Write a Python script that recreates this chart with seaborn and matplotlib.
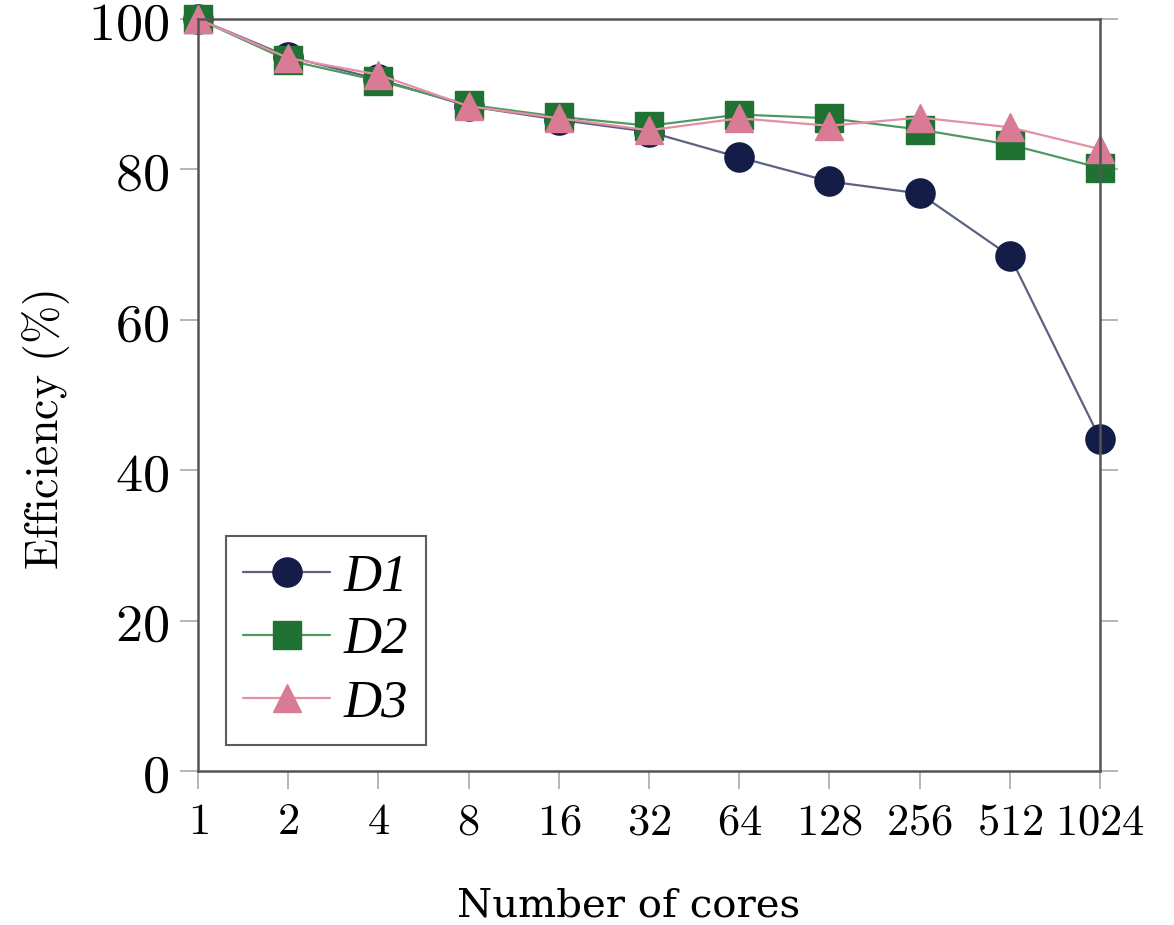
import matplotlib
matplotlib.use("Agg")
import matplotlib.pyplot as plt
import seaborn as sns
import pandas as pd

cores = [1, 2, 4, 8, 16, 32, 64, 128, 256, 512, 1024]
d1 = [100, 95.0, 92.0, 88.4, 86.6, 85.0, 81.6, 78.4, 76.8, 68.5, 44.2]
d2 = [100, 94.5, 91.8, 88.6, 87.0, 85.8, 87.3, 86.8, 85.3, 83.3, 80.2]
d3 = [100, 94.8, 92.6, 88.4, 86.8, 85.2, 86.8, 85.8, 86.9, 85.6, 82.7]
series_names = ["D1", "D2", "D3"]
y_ticks = [0, 20, 40, 60, 80, 100]

sns.set_theme(style="white")
plt.rcParams["mathtext.fontset"] = "cm"
plt.rcParams["font.family"] = ["DejaVu Serif"]
plt.rcParams["text.color"] = "black"
plt.rcParams["xtick.labelcolor"] = "black"
plt.rcParams["ytick.labelcolor"] = "black"
plt.rcParams["axes.labelcolor"] = "black"

fig = plt.figure(figsize=(11.74, 9.25), dpi=100)
ax = fig.add_axes([198 / 1174, 1 - 771 / 925, 902 / 1174, 752 / 925])

styles = [
    dict(line="#5b6283", mk="#141c48", marker="o", ms=21),
    dict(line="#4f9a60", mk="#1f7232", marker="s", ms=20),
    dict(line="#e58fa6", mk="#d97b95", marker="^", ms=20),
]
for name, vals, st in zip(series_names, [d1, d2, d3], styles):
    df = pd.DataFrame({"cores": cores, "eff": vals})
    sns.lineplot(data=df, x="cores", y="eff", ax=ax, color=st["line"], lw=1.6,
                 marker=st["marker"], markersize=st["ms"],
                 markerfacecolor=st["mk"], markeredgecolor=st["mk"],
                 markeredgewidth=1, label=name, clip_on=False)

ax.set_xscale("log", base=2)
ax.set_xlim(1, 1024)
ax.set_ylim(0, 100)
ax.set_xticks(cores)
ax.set_xticklabels([f"${c}$" for c in cores], fontsize=32)
ax.minorticks_off()
ax.set_yticks(y_ticks)
ax.set_yticklabels([f"${v}$" for v in y_ticks], fontsize=39)

for s in ax.spines.values():
    s.set_color("#555555")
    s.set_linewidth(1.8)
ax.tick_params(axis="both", which="major", direction="out", length=13, width=1.3,
               color="#b0b0b0", left=True, bottom=True, right=True, top=False)
ax.tick_params(axis="x", pad=8)
ax.tick_params(axis="y", pad=8)

ax.set_xlabel("Number of cores", fontsize=29, family="DejaVu Serif")
ax.xaxis.set_label_coords(0.477, -0.155)
ax.set_ylabel(r"$\mathrm{Efficiency\ (\%)}$", fontsize=33)
ax.yaxis.set_label_coords(-0.14, 0.453)

leg = ax.legend(loc="lower left", bbox_to_anchor=(0.031, 0.035),
                prop=dict(family="Liberation Serif", style="italic", size=38),
                frameon=True, fancybox=False, handlelength=1.65, handletextpad=0.25,
                borderpad=0.33, labelspacing=0.28, borderaxespad=0)
leg.get_frame().set_edgecolor("#333333")
leg.get_frame().set_linewidth(1.5)

fig.savefig("out.png", dpi=100)
